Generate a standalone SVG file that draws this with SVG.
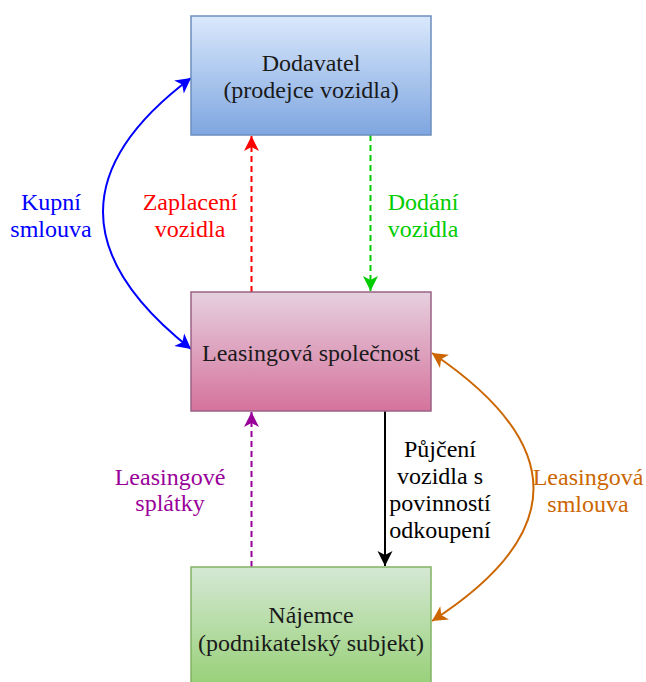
<svg xmlns="http://www.w3.org/2000/svg" width="646" height="682" viewBox="0 0 646 682">
<style>
text{font-family:"Liberation Serif","Times New Roman",serif;font-size:24px;text-anchor:middle}
.box{stroke-width:1.5}
.e{fill:none;stroke-width:2}
</style>
<defs>
<linearGradient id="gb" x1="0" y1="0" x2="0" y2="1"><stop offset="0" stop-color="#dae8fc"/><stop offset="1" stop-color="#7ea6e0"/></linearGradient>
<linearGradient id="gp" x1="0" y1="0" x2="0" y2="1"><stop offset="0" stop-color="#e6d0de"/><stop offset="1" stop-color="#d5739d"/></linearGradient>
<linearGradient id="gg" x1="0" y1="0" x2="0" y2="1"><stop offset="0" stop-color="#d5e8d4"/><stop offset="1" stop-color="#97d077"/></linearGradient>
<marker id="mBlue" markerUnits="userSpaceOnUse" markerWidth="18" markerHeight="18" refX="16" refY="9" orient="auto-start-reverse" viewBox="0 0 18 18"><path d="M1,1 L16,9 L1,17 L5,9 Z" fill="#0000ff"/></marker>
<marker id="mRed" markerUnits="userSpaceOnUse" markerWidth="18" markerHeight="18" refX="16" refY="9" orient="auto" viewBox="0 0 18 18"><path d="M1,1.5 L16,9 L1,16.5 L5,9 Z" fill="#ff0000"/></marker>
<marker id="mGreen" markerUnits="userSpaceOnUse" markerWidth="18" markerHeight="18" refX="16" refY="9" orient="auto" viewBox="0 0 18 18"><path d="M1,1.5 L16,9 L1,16.5 L5,9 Z" fill="#00cc00"/></marker>
<marker id="mPurple" markerUnits="userSpaceOnUse" markerWidth="18" markerHeight="18" refX="16" refY="9" orient="auto" viewBox="0 0 18 18"><path d="M1,1.5 L16,9 L1,16.5 L5,9 Z" fill="#990099"/></marker>
<marker id="mBlack" markerUnits="userSpaceOnUse" markerWidth="18" markerHeight="18" refX="16" refY="9" orient="auto" viewBox="0 0 18 18"><path d="M1,1.5 L16,9 L1,16.5 L5,9 Z" fill="#000000"/></marker>
<marker id="mOrange" markerUnits="userSpaceOnUse" markerWidth="18" markerHeight="18" refX="16" refY="9" orient="auto-start-reverse" viewBox="0 0 18 18"><path d="M1,1 L16,9 L1,17 L5,9 Z" fill="#cc6600"/></marker>
</defs>

<g id="connectors">
<path class="e" d="M191,78 Q15,210 191,349" stroke="#0000ff" marker-start="url(#mBlue)" marker-end="url(#mBlue)"/>
<path class="e" d="M251.5,292 L251.5,136" stroke="#ff0000" stroke-dasharray="6 4" marker-end="url(#mRed)"/>
<path class="e" d="M370.5,135 L370.5,291" stroke="#00cc00" stroke-dasharray="6 4" marker-end="url(#mGreen)"/>
<path class="e" d="M251.5,567 L251.5,412" stroke="#990099" stroke-dasharray="6 4" marker-end="url(#mPurple)"/>
<path class="e" d="M385,411 L385,566" stroke="#000000" marker-end="url(#mBlack)"/>
<path class="e" d="M432,353 Q635,490 432,621" stroke="#cc6600" marker-start="url(#mOrange)" marker-end="url(#mOrange)"/>
<text x="51" y="210" fill="#0000ff">Kupní</text>
<text x="51" y="237" fill="#0000ff">smlouva</text>
<text x="190" y="210" fill="#ff0000">Zaplacení</text>
<text x="190" y="237" fill="#ff0000">vozidla</text>
<text x="423" y="210" fill="#00cc00">Dodání</text>
<text x="423" y="237" fill="#00cc00">vozidla</text>
<text x="170" y="485" fill="#990099">Leasingové</text>
<text x="170" y="511" fill="#990099">splátky</text>
<text x="440" y="457" fill="#000000">Půjčení</text>
<text x="440" y="484" fill="#000000">vozidla s</text>
<text x="440" y="511" fill="#000000">povinností</text>
<text x="440" y="538" fill="#000000">odkoupení</text>
<text x="588" y="485" fill="#cc6600">Leasingová</text>
<text x="588" y="512" fill="#cc6600">smlouva</text>
</g>

<g id="dodavatel">
<rect class="box" x="191" y="16" width="240" height="119" fill="url(#gb)" stroke="#6c8ebf"/>
<text x="311" y="71" fill="#1a1a1a">Dodavatel</text>
<text x="311" y="98" fill="#1a1a1a">(prodejce vozidla)</text>
</g>
<g id="leasingova">
<rect class="box" x="191" y="292" width="240" height="119" fill="url(#gp)" stroke="#996185"/>
<text x="311" y="361" fill="#1a1a1a">Leasingová společnost</text>
</g>
<g id="najemce">
<rect class="box" x="191" y="567" width="240" height="120" fill="url(#gg)" stroke="#82b366"/>
<text x="311" y="623" fill="#1a1a1a">Nájemce</text>
<text x="311" y="651" fill="#1a1a1a">(podnikatelský subjekt)</text>
</g>
</svg>
